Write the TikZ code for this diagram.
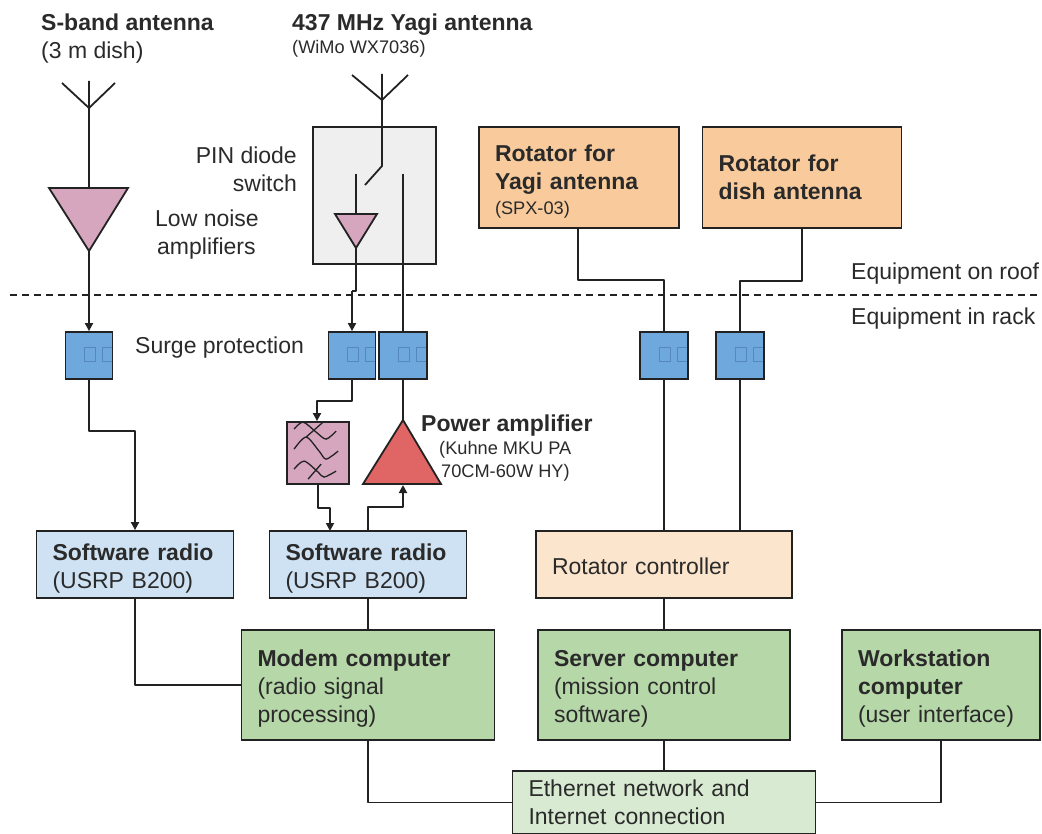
\documentclass[tikz,border=0pt]{standalone}
\usepackage{fontspec}
\setmainfont{Liberation Sans}
\usetikzlibrary{arrows.meta}
\definecolor{ink}{HTML}{222222}
\definecolor{txt}{HTML}{2A2A2A}
\definecolor{pinkf}{HTML}{D5A6BD}
\definecolor{bluef}{HTML}{6FA8DC}
\definecolor{tofu}{HTML}{5588BE}
\definecolor{orangef}{HTML}{F9CB9C}
\definecolor{lorangef}{HTML}{FCE5CD}
\definecolor{greenf}{HTML}{B6D7A8}
\definecolor{lgreenf}{HTML}{D9EAD3}
\definecolor{lbluef}{HTML}{CFE2F3}
\definecolor{redf}{HTML}{E06666}
\definecolor{grayf}{HTML}{EFEFEF}
\newcommand{\fbig}{\fontsize{23}{28}\selectfont}
\newcommand{\fsml}{\fontsize{18.2}{24}\selectfont}
\newcommand{\lift}{\rule{0pt}{24pt}}
\tikzset{
  x=1pt,y=-1pt,
  wire/.style={draw=ink,line width=1.8pt,line join=round},
  arr/.style={wire,-{Triangle[length=8pt,width=8pt]}},
  shapeline/.style={draw=ink,line width=1.8pt,line join=miter},
  bx/.style={draw=ink,line width=1.8pt,inner xsep=16pt,inner ysep=0pt,align=left,text=txt,font=\fbig},
  surge/.style={draw=ink,line width=1.8pt,fill=bluef,minimum width=47pt,minimum height=47pt,inner sep=0pt},
  lbl/.style={text=txt,font=\fbig,inner sep=0pt,align=left},
  lblr/.style={lbl,align=right},
  smalllbl/.style={text=txt,font=\fsml,inner sep=0pt,align=left},
  tofubox/.style={draw=tofu,line width=1pt}
}
\newcommand{\tofus}[1]{%
  \draw[tofubox] ([xshift=-5pt,yshift=-6.5pt]#1.center) rectangle ([xshift=6pt,yshift=7.5pt]#1.center);
  \draw[tofubox] ([xshift=13pt,yshift=-6.5pt]#1.center) -- ([xshift=23pt,yshift=-6.5pt]#1.center) ([xshift=13pt,yshift=-6.5pt]#1.center) -- ([xshift=13pt,yshift=7.5pt]#1.center) -- ([xshift=23pt,yshift=7.5pt]#1.center);
}
\begin{document}
\begin{tikzpicture}
\useasboundingbox (0,0) rectangle (1042,834);
% roof / rack divider
\coordinate (dl) at (10,295);
\coordinate (dr) at (1042,295);
\draw[draw=ink,line width=1.3pt,dash pattern=on 7pt off 5pt] (dl) -- (dr);

% boxes
\node[bx,fill=grayf,minimum width=123pt,minimum height=137pt] (sw) at (374.5,195.5) {};
\node[bx,fill=orangef,minimum width=200pt,minimum height=101pt,text width=168pt] (roty) at (579,177.5)
  {\lift\textbf{Rotator for}\\\textbf{Yagi antenna}\\[-3pt]{\fsml (SPX-03)}};
\node[bx,fill=orangef,minimum width=199pt,minimum height=101pt,text width=167pt] (rotd) at (802,177.5)
  {\textbf{Rotator for}\\\textbf{dish antenna}};
\node[surge] (s1) at (89,355.5) {};
\node[surge] (s2) at (352,355.5) {};
\node[surge,minimum width=48pt] (s3) at (403,355.5) {};
\node[surge,minimum width=48pt] (s4) at (664,355.5) {};
\node[surge,minimum width=48pt] (s5) at (740,355.5) {};
\tofus{s1}\tofus{s2}\tofus{s3}\tofus{s4}\tofus{s5}
\node[bx,fill=lbluef,minimum width=197pt,minimum height=67pt,text width=165pt] (r1) at (135,564.5)
  {\lift\textbf{Software radio}\\(USRP B200)};
\node[bx,fill=lbluef,minimum width=197pt,minimum height=67pt,text width=165pt] (r2) at (368,564.5)
  {\lift\textbf{Software radio}\\(USRP B200)};
\node[bx,fill=lorangef,minimum width=256pt,minimum height=67pt,text width=224pt] (rc) at (664,564.5)
  {\rule{0pt}{20pt}Rotator controller};
\node[bx,fill=greenf,minimum width=253pt,minimum height=110pt,text width=221pt] (modem) at (368,685)
  {\lift\textbf{Modem computer}\\(radio signal\\processing)};
\node[bx,fill=greenf,minimum width=252pt,minimum height=110pt,text width=220pt] (server) at (664,685)
  {\lift\textbf{Server computer}\\(mission control\\software)};
\node[bx,fill=greenf,minimum width=198pt,minimum height=110pt,text width=166pt] (ws) at (941,685)
  {\lift\textbf{Workstation}\\\textbf{computer}\\(user interface)};
\node[bx,fill=lgreenf,minimum width=303pt,minimum height=63pt,text width=271pt] (eth) at (664,802.5)
  {Ethernet network and\\Internet connection};

% S-band chain
\coordinate (a1top) at (89,81);
\coordinate (a1fork) at (89,108);
\coordinate (a1l) at (62,83);
\coordinate (a1r) at (115,83);
\coordinate (l1a) at (49,188);
\coordinate (l1b) at (128,188);
\coordinate (l1c) at (89,251);
\coordinate (l1top) at (89,188);
\draw[wire] (a1l) -- (a1fork) -- (a1r) (a1top) -- (l1top);
\draw[shapeline,fill=pinkf] (l1a) -- (l1b) -- (l1c) -- cycle;
\draw[arr] (l1c) -- (s1.north);
\draw[arr] (s1.south) |- (135,431) -- (r1.north);

% Yagi chain
\coordinate (a2top) at (382,74);
\coordinate (a2fork) at (382,100);
\coordinate (a2l) at (352,75);
\coordinate (a2r) at (408,75);
\coordinate (swk) at (382,166);
\coordinate (swe) at (365,185);
\coordinate (c1) at (356,174);
\coordinate (c2) at (403,174);
\coordinate (l2a) at (335,214);
\coordinate (l2b) at (377,214);
\coordinate (l2c) at (356,248);
\coordinate (l2top) at (356,214);
\coordinate (jog1) at (356,291);
\coordinate (jog2) at (352,291);
\draw[wire] (a2l) -- (a2fork) -- (a2r) (a2top) -- (swk) -- (swe);
\draw[wire] (c1) -- (l2top);
\draw[wire] (c2) -- (s3.north);
\draw[shapeline,fill=pinkf] (l2a) -- (l2b) -- (l2c) -- cycle;
\draw[wire] (l2c) -- (jog1) -- (jog2);
\draw[arr] (jog2) -- (s2.north);

% filter
\node[draw=ink,line width=1.8pt,fill=pinkf,minimum width=62pt,minimum height=62pt,inner sep=0pt] (flt) at (318,453) {};
\begin{scope}[shift={(flt.north west)},draw=ink,line width=1.3pt]
  \draw plot[smooth] coordinates {(8,8) (17,1) (30,11) (40,18) (50,10)};
  \draw (20,16) -- (37,1);
  \draw plot[smooth] coordinates {(8,28) (20,16) (33,30) (40,38) (52,30)};
  \draw plot[smooth] coordinates {(8,48) (18,40) (32,51) (38,56) (50,50)};
  \draw (22,58) -- (35,43);
\end{scope}
\draw[arr] (s2.south) |- (317,401) -- ([xshift=-1pt]flt.north);
\draw[arr] (flt.south) |- (330,508) -- (330,531);

% power amplifier
\coordinate (pa1) at (403,420);
\coordinate (pa2) at (441,484);
\coordinate (pa3) at (363,484);
\coordinate (pab) at (403,485);
\draw[shapeline,fill=redf] (pa1) -- (pa2) -- (pa3) -- cycle;
\draw[wire] (s3.south) -- (pa1);
\draw[arr] (r2.north) |- (403,507) -- (pab);

% rotators
\draw[wire] ([xshift=-1pt]roty.south) |- (664,280) -- (s4.north);
\draw[wire] (rotd.south) |- (740,281) -- (s5.north);
\draw[wire] (s4.south) -- (rc.north);
\draw[wire] (s5.south) -- (740,531);

% lower links
\draw[wire] (rc.south) -- (server.north);
\draw[wire] (server.south) -- (eth.north);
\draw[wire] (r1.south) |- (modem.west);
\draw[wire] (r2.south) -- (modem.north);
\draw[wire] (modem.south) |- (eth.west);
\draw[wire] (ws.south) |- (eth.east);

% labels
\node[lbl,anchor=base west] (t1) at (41,31) {\textbf{S-band antenna}};
\node[lbl,anchor=base west] (t2) at (41,59) {(3 m dish)};
\node[lbl,anchor=base west] (t3) at (292,31) {\textbf{437 MHz Yagi antenna}};
\node[smalllbl,anchor=base west] (t4) at (292,54) {(WiMo WX7036)};
\node[lblr,anchor=base east] (t5) at (297,164) {PIN diode};
\node[lblr,anchor=base east] (t6) at (297,192) {switch};
\node[lbl,anchor=base west] (t7) at (155,227) {Low noise};
\node[lbl,anchor=base west] (t8) at (157,255) {amplifiers};
\node[lbl,anchor=base west] (t9) at (135,354) {Surge protection};
\node[lbl,anchor=base west] (t10) at (421,431) {\textbf{Power amplifier}};
\node[smalllbl,anchor=base west] (t11) at (439,454) {(Kuhne MKU PA};
\node[smalllbl,anchor=base west] (t12) at (441,477) {70CM-60W HY)};
\node[lbl,anchor=base west] (t13) at (851,280) {Equipment on roof};
\node[lbl,anchor=base west] (t14) at (851,325) {Equipment in rack};
\end{tikzpicture}
\end{document}
